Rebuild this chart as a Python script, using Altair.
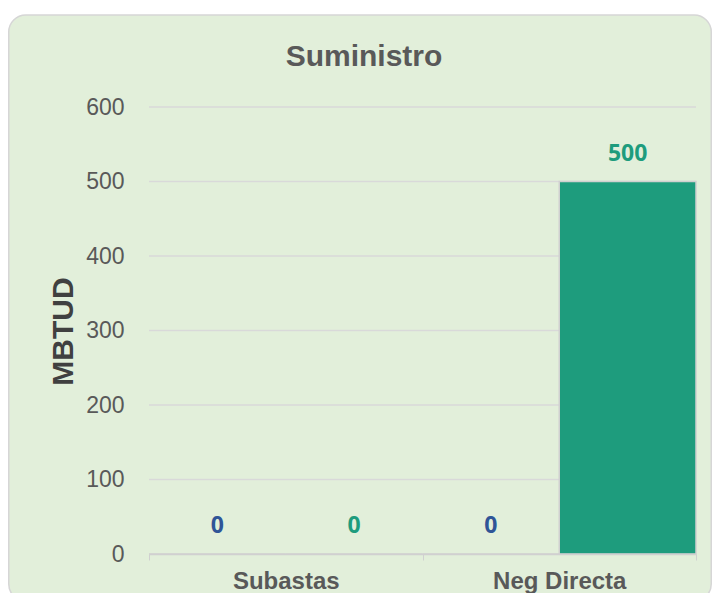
import altair as alt
import pandas as pd

categories = ["Subastas", "Subastas", "Neg Directa", "Neg Directa"]
series = ["Serie 1", "Serie 2", "Serie 1", "Serie 2"]
values = [0, 0, 0, 500]
cat_order = ["Subastas", "Neg Directa"]
series_order = ["Serie 1", "Serie 2"]
series_colors = ["#2F5597", "#1E9C7D"]
y_ticks = [0, 100, 200, 300, 400, 500, 600]
title_text = "Suministro"
y_title = "MBTUD"

df = pd.DataFrame({"cat": categories, "serie": series, "val": values})
grid_df = pd.DataFrame({"val": y_ticks[1:]})

W, H = 547, 447
PL, PT, PR, PB = 141, 99, 16, 39
FONT = "Liberation Sans"

bg = alt.Chart(alt.Data(values=[{"a": 1}])).mark_rect(
    fill="#E2EFDA", stroke="#D6D6D6", strokeWidth=1.5, cornerRadius=17
).encode(
    x=alt.value(-PL + 0.75), x2=alt.value(W + PR - 0.75),
    y=alt.value(-92), y2=alt.value(H + PB + 8)
)

title = alt.Chart(alt.Data(values=[{"t": title_text}])).mark_text(
    font=FONT, fontSize=30, fontWeight="bold", color="#595959", baseline="middle", align="center"
).encode(x=alt.value(215), y=alt.value(-50), text="t:N")

y_scale = alt.Scale(domain=[0, 600], nice=False)
y_axis = alt.Axis(
    values=y_ticks, labelFont=FONT, labelFontSize=23, labelColor="#595959",
    ticks=False, domain=False, labelPadding=25, grid=False, zindex=1,
    titleFont=FONT, titleFontSize=30, titleFontWeight="bold", titleColor="#404040",
    titleX=-86, titleY=224, titleAngle=-90, titleBaseline="middle", titleAlign="center",
)

grid = alt.Chart(grid_df).mark_rule(color="#D9D9D9", strokeWidth=1.5).encode(
    y=alt.Y("val:Q", scale=y_scale, axis=y_axis, title=y_title), x=alt.value(0), x2=alt.value(W)
)

x_enc = alt.X(
    "cat:N", sort=cat_order, title=None,
    scale=alt.Scale(paddingInner=0, paddingOuter=0),
    axis=alt.Axis(
        labelFont=FONT, labelFontSize=24, labelFontWeight="bold", labelColor="#595959",
        labelAngle=0, tickBand="extent", tickSize=6, tickColor="#D0D0D0",
        domainColor="#D0D0D0", domainWidth=1.5, labelPadding=21, labelBaseline="middle",
        grid=False, zindex=1,
    ),
)
y_enc = alt.Y("val:Q", title=y_title, scale=y_scale, axis=y_axis)
xoff = alt.XOffset("serie:N", sort=series_order, scale=alt.Scale(paddingInner=0, paddingOuter=0))
color = alt.Color("serie:N", sort=series_order,
                  scale=alt.Scale(domain=series_order, range=series_colors), legend=None)

bars = alt.Chart(df).mark_bar(stroke="#D0D0D0", strokeWidth=1.5).encode(
    x=x_enc, xOffset=xoff, y=y_enc, color=color
)
labels = alt.Chart(df).mark_text(
    dy=-28, font="Open Sans", fontSize=23, fontWeight="bold", baseline="middle"
).encode(
    x=x_enc, xOffset=xoff, y=y_enc, color=color, text=alt.Text("val:Q")
)

chart = alt.layer(bg, title, grid, bars, labels).properties(
    width=W, height=H,
    autosize=alt.AutoSizeParams(type="none"),
    padding={"left": PL, "top": PT, "right": PR, "bottom": PB},
).configure(background="white").configure_view(stroke=None)

chart.save("out.html", embed_options={"renderer": "svg", "actions": False})
